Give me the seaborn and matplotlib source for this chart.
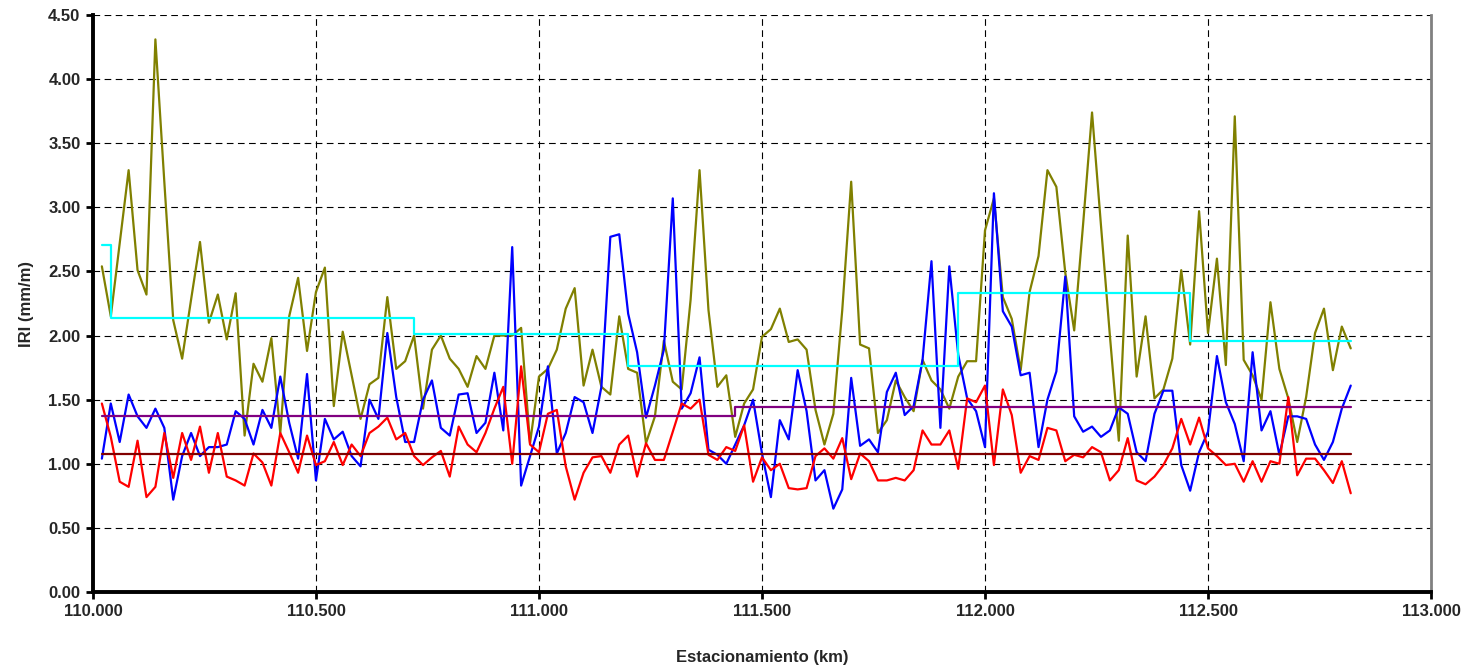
import numpy as np
import pandas as pd
import matplotlib
matplotlib.use("Agg")
import matplotlib.pyplot as plt
import seaborn as sns
from matplotlib.ticker import MultipleLocator, FormatStrFormatter

# Stations every 20 m along the section (km)
stations = np.round(np.arange(110.02, 112.821, 0.02), 2)

iri_olive = [
    2.54, 2.15, 2.72, 3.29, 2.51, 2.32, 4.31, 3.20, 2.12, 1.82,
    2.28, 2.73, 2.10, 2.32, 1.97, 2.33, 1.22, 1.78, 1.64, 1.98,
    1.24, 2.15, 2.45, 1.88, 2.34, 2.53, 1.45, 2.03, 1.69, 1.35,
    1.62, 1.67, 2.30, 1.74, 1.80, 2.00, 1.43, 1.89, 2.00, 1.82,
    1.74, 1.60, 1.84, 1.74, 2.00, 2.00, 2.00, 2.06, 1.16, 1.68,
    1.74, 1.89, 2.21, 2.37, 1.61, 1.89, 1.60, 1.54, 2.15, 1.74,
    1.71, 1.16, 1.37, 1.96, 1.64, 1.58, 2.28, 3.29, 2.20, 1.60,
    1.69, 1.21, 1.47, 1.58, 1.99, 2.05, 2.21, 1.95, 1.97, 1.89,
    1.42, 1.15, 1.39, 2.20, 3.20, 1.93, 1.90, 1.24, 1.34, 1.65,
    1.52, 1.41, 1.81, 1.65, 1.58, 1.43, 1.68, 1.80, 1.80, 2.82,
    3.07, 2.30, 2.13, 1.73, 2.34, 2.62, 3.29, 3.16, 2.49, 2.04,
    2.87, 3.74, 2.86, 2.00, 1.18, 2.78, 1.68, 2.15, 1.51, 1.58,
    1.82, 2.51, 1.93, 2.97, 2.02, 2.60, 1.77, 3.71, 1.81, 1.69,
    1.50, 2.26, 1.74, 1.51, 1.17, 1.52, 2.02, 2.21, 1.73, 2.07,
    1.90,
]

iri_blue = [
    1.04, 1.47, 1.17, 1.54, 1.37, 1.28, 1.43, 1.28, 0.72, 1.06,
    1.24, 1.06, 1.13, 1.13, 1.15, 1.41, 1.35, 1.15, 1.42, 1.28,
    1.68, 1.32, 1.04, 1.70, 0.87, 1.35, 1.19, 1.25, 1.06, 0.98,
    1.50, 1.35, 2.02, 1.52, 1.17, 1.17, 1.50, 1.65, 1.28, 1.22,
    1.54, 1.55, 1.24, 1.32, 1.71, 1.26, 2.69, 0.83, 1.06, 1.29,
    1.76, 1.08, 1.24, 1.52, 1.48, 1.24, 1.60, 2.77, 2.79, 2.17,
    1.87, 1.36, 1.61, 1.89, 3.07, 1.43, 1.55, 1.83, 1.11, 1.07,
    1.00, 1.15, 1.30, 1.50, 1.08, 0.74, 1.34, 1.19, 1.73, 1.41,
    0.87, 0.95, 0.65, 0.80, 1.67, 1.14, 1.19, 1.09, 1.56, 1.71,
    1.38, 1.45, 1.81, 2.58, 1.28, 2.54, 1.85, 1.51, 1.41, 1.13,
    3.11, 2.19, 2.07, 1.69, 1.71, 1.13, 1.50, 1.72, 2.46, 1.37,
    1.25, 1.29, 1.21, 1.26, 1.44, 1.39, 1.09, 1.02, 1.39, 1.57,
    1.57, 0.99, 0.79, 1.09, 1.25, 1.84, 1.48, 1.31, 1.02, 1.87,
    1.26, 1.41, 1.07, 1.37, 1.37, 1.35, 1.15, 1.03, 1.17, 1.43,
    1.61,
]

iri_red = [
    1.47, 1.21, 0.86, 0.82, 1.18, 0.74, 0.82, 1.24, 0.89, 1.24,
    1.03, 1.29, 0.93, 1.24, 0.90, 0.87, 0.83, 1.08, 1.01, 0.83,
    1.24, 1.09, 0.93, 1.22, 0.99, 1.02, 1.17, 0.99, 1.15, 1.06,
    1.24, 1.29, 1.36, 1.19, 1.24, 1.06, 0.99, 1.05, 1.10, 0.90,
    1.29, 1.15, 1.09, 1.24, 1.43, 1.60, 1.00, 1.76, 1.15, 1.09,
    1.39, 1.42, 0.98, 0.72, 0.93, 1.05, 1.06, 0.93, 1.15, 1.22,
    0.90, 1.16, 1.03, 1.03, 1.25, 1.47, 1.43, 1.50, 1.07, 1.03,
    1.13, 1.10, 1.30, 0.86, 1.05, 0.95, 1.00, 0.81, 0.80, 0.81,
    1.06, 1.12, 1.04, 1.20, 0.88, 1.08, 1.02, 0.87, 0.87, 0.89,
    0.87, 0.95, 1.26, 1.15, 1.15, 1.26, 0.96, 1.51, 1.48, 1.61,
    0.99, 1.58, 1.38, 0.93, 1.06, 1.03, 1.28, 1.26, 1.02, 1.07,
    1.05, 1.13, 1.09, 0.87, 0.95, 1.20, 0.87, 0.84, 0.90, 0.99,
    1.12, 1.35, 1.15, 1.36, 1.12, 1.06, 0.99, 1.00, 0.86, 1.02,
    0.86, 1.02, 1.00, 1.52, 0.91, 1.04, 1.04, 0.95, 0.85, 1.02,
    0.77,
]

# Homogeneous sections (step averages)
section_km = [110.02, 110.04, 110.72, 111.20, 111.94, 112.46, 112.82]
section_iri = [2.71, 2.14, 2.01, 1.76, 2.33, 1.96, 1.96]

purple_km = [110.02, 111.44, 112.82]
purple_iri = [1.37, 1.44, 1.44]

mean_km = [110.02, 112.82]
mean_iri = [1.08, 1.08]

sns.set_style("white")
plt.rcParams["font.family"] = ["Liberation Sans", "DejaVu Sans"]

fig = plt.figure(figsize=(14.73, 6.68), dpi=100)
ax = fig.add_axes([0.0631, 0.1138, 0.9084, 0.8637])

df = pd.DataFrame({"km": stations, "olive": iri_olive, "blue": iri_blue, "red": iri_red})
lw = 1.6

sns.lineplot(data=df, x="km", y="olive", color="#808000", lw=lw, ax=ax, zorder=3)
sns.lineplot(data=df, x="km", y="blue", color="#0000FF", lw=lw, ax=ax, zorder=4)
sns.lineplot(data=df, x="km", y="red", color="#FF0000", lw=lw, ax=ax, zorder=5)

sec = pd.DataFrame({"km": section_km, "iri": section_iri})
sns.lineplot(data=sec, x="km", y="iri", color="#00FFFF", lw=lw, drawstyle="steps-post",
             ax=ax, zorder=6)
pur = pd.DataFrame({"km": purple_km, "iri": purple_iri})
sns.lineplot(data=pur, x="km", y="iri", color="#800080", lw=lw, drawstyle="steps-post",
             ax=ax, zorder=6)
avg = pd.DataFrame({"km": mean_km, "iri": mean_iri})
sns.lineplot(data=avg, x="km", y="iri", color="#800000", lw=lw, ax=ax, zorder=6)

ax.set_xlim(110.0, 113.0)
ax.set_ylim(0.0, 4.5)
ax.xaxis.set_major_locator(MultipleLocator(0.5))
ax.yaxis.set_major_locator(MultipleLocator(0.5))
ax.xaxis.set_major_formatter(FormatStrFormatter("%.3f"))
ax.yaxis.set_major_formatter(FormatStrFormatter("%.2f"))

ax.grid(True, color="black", linestyle=(0, (6, 4)), linewidth=0.8)
ax.set_axisbelow(True)

for side in ("left", "bottom"):
    ax.spines[side].set_color("black")
    ax.spines[side].set_linewidth(2.8)
ax.spines["top"].set_visible(False)
ax.spines["right"].set_color("#808080")
ax.spines["right"].set_linewidth(2.0)

ax.tick_params(axis="both", which="major", direction="out", length=5, width=2,
               color="black", labelsize=12, pad=4, left=True, bottom=True)
for lab in ax.get_xticklabels() + ax.get_yticklabels():
    lab.set_fontweight("bold")

ax.set_xlabel("Estacionamiento (km)", fontsize=12, fontweight="bold", labelpad=22)
ax.set_ylabel("IRI (mm/m)", fontsize=12, fontweight="bold", labelpad=10)

fig.savefig("out.png", dpi=100)
